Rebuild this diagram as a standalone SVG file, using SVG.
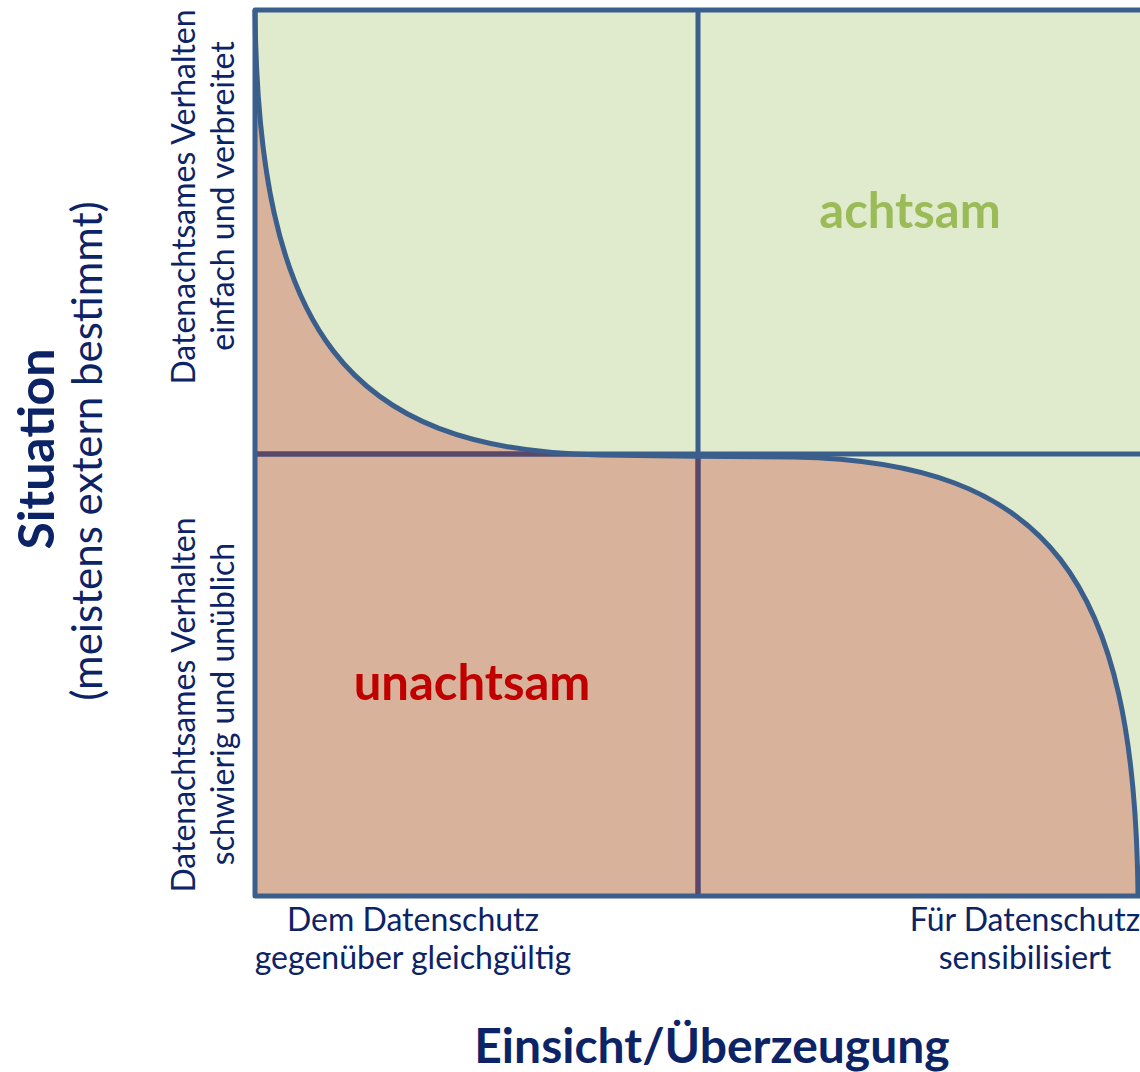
<svg xmlns="http://www.w3.org/2000/svg" width="1140" height="1072" viewBox="0 0 1140 1072">
<style>
.t{font-family:Lato,"Liberation Sans",sans-serif;fill:#0c2366}
.s{font-size:32px}
.b{font-weight:bold}
.ln{stroke:#3a5f8c;stroke-width:5;fill:none}
.lp{stroke:#5a4769;stroke-width:5;fill:none}
</style>
<defs>
<path id="curve" d="M255,10 C258,330 345,450 600,455 C640,456 760,456.5 794,457 C1048,462 1135,578 1138,896"/>
<clipPath id="cb"><path d="M255,10 C258,330 345,450 600,455 C640,456 760,456.5 794,457 C1048,462 1135,578 1138,896 L255,896 Z"/></clipPath>
</defs>
<rect width="1140" height="1072" fill="#ffffff"/>
<g id="chart">
<rect x="255" y="10" width="900" height="886" fill="#e0ebcd"/>
<path d="M255,10 C258,330 345,450 600,455 C640,456 760,456.5 794,457 C1048,462 1135,578 1138,896 L255,896 Z" fill="#d8b29a"/>
</g>
<g id="connectors">
<line class="ln" x1="698" y1="10" x2="698" y2="896"/>
<line class="ln" x1="255" y1="454" x2="1140" y2="454"/>
<g clip-path="url(#cb)">
<line class="lp" x1="698" y1="10" x2="698" y2="896"/>
<line class="lp" x1="255" y1="454" x2="1140" y2="454"/>
</g>
<use href="#curve" class="ln" stroke-width="6"/>
<rect class="ln" x="255" y="10" width="900" height="886" stroke-linejoin="round"/>
</g>
<g id="label-achtsam"><text class="t b" x="910" y="228" font-size="49" text-anchor="middle" style="fill:#9bbb59">achtsam</text></g>
<g id="label-unachtsam"><text class="t b" x="472" y="700" font-size="49" text-anchor="middle" style="fill:#c00000">unachtsam</text></g>
<g id="y-top">
<text class="t s" transform="translate(195,197) rotate(-90)" text-anchor="middle">Datenachtsames Verhalten</text>
<text class="t s" transform="translate(234,196) rotate(-90)" text-anchor="middle">einfach und verbreitet</text>
</g>
<g id="y-bottom">
<text class="t s" transform="translate(195,705) rotate(-90)" text-anchor="middle">Datenachtsames Verhalten</text>
<text class="t s" transform="translate(234,704) rotate(-90)" text-anchor="middle">schwierig und unüblich</text>
</g>
<g id="y-axis">
<text class="t b" transform="translate(54,449) rotate(-90)" font-size="50" text-anchor="middle">Situation</text>
<text class="t" transform="translate(102,451) rotate(-90)" font-size="42" text-anchor="middle">(meistens extern bestimmt)</text>
</g>
<g id="x-left">
<text class="t s" x="413" y="931" text-anchor="middle">Dem Datenschutz</text>
<text class="t s" x="413" y="969" text-anchor="middle">gegenüber gleichgültig</text>
</g>
<g id="x-right">
<text class="t s" x="1025" y="931" text-anchor="middle">Für Datenschutz</text>
<text class="t s" x="1025" y="969" text-anchor="middle">sensibilisiert</text>
</g>
<g id="x-axis"><text class="t b" x="712" y="1063" font-size="48" text-anchor="middle">Einsicht/Überzeugung</text></g>
</svg>
